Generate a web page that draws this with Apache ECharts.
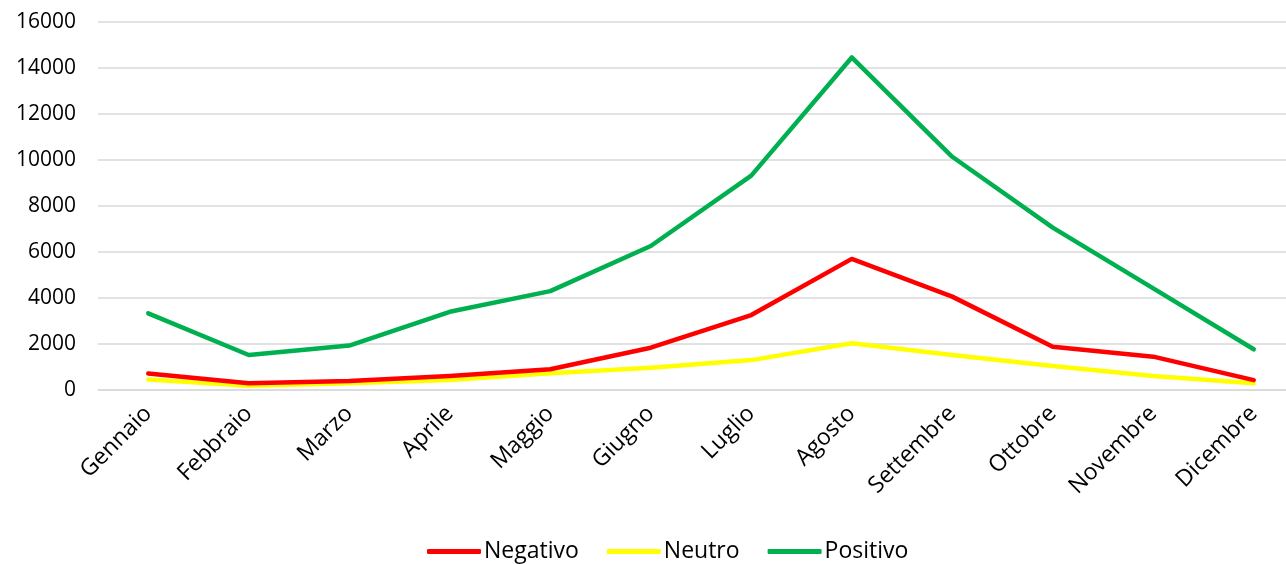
<!DOCTYPE html>
<html>
<head>
<meta charset="utf-8">
<script src="https://cdn.jsdelivr.net/npm/echarts@6/dist/echarts.min.js"></script>
<style>
  html, body { margin: 0; padding: 0; background: #fff; overflow: hidden; }
  /* the plot area continues a little past the right edge of the window */
  #chart { width: 1304px; height: 564px; }
</style>
</head>
<body>
<div id="chart"></div>
<script>
// Monthly counts by sentiment
const mesi = ['Gennaio', 'Febbraio', 'Marzo', 'Aprile', 'Maggio', 'Giugno',
              'Luglio', 'Agosto', 'Settembre', 'Ottobre', 'Novembre', 'Dicembre'];
const negativo = [720, 290, 390, 610, 900, 1840, 3260, 5700, 4060, 1880, 1450, 430];
const neutro   = [460, 190, 290, 430, 730, 970, 1300, 2030, 1520, 1040, 610, 290];
const positivo = [3330, 1520, 1930, 3400, 4300, 6260, 9320, 14460, 10140, 7060, 4420, 1770];

const FONT = '"Open Sans", "Noto Sans", sans-serif';

const chart = echarts.init(document.getElementById('chart'), null, { renderer: 'canvas' });

function lineSeries(name, data, color) {
  return {
    name: name,
    type: 'line',
    data: data,
    showSymbol: false,
    symbol: 'none',
    lineStyle: { color: color, width: 4.5, cap: 'round', join: 'round' },
    itemStyle: { color: color },
    emphasis: { disabled: true }
  };
}

chart.setOption({
  animation: false,
  backgroundColor: '#ffffff',
  grid: { left: 98, top: 22, bottom: 174, right: 0, containLabel: false },
  xAxis: {
    type: 'category',
    data: mesi,
    boundaryGap: true,
    axisLine: { show: true, lineStyle: { color: '#D9D9D9', width: 1.5 } },
    axisTick: { show: false },
    axisLabel: {
      interval: 0,
      rotate: 45,
      margin: 20,
      color: '#000',
      fontFamily: FONT,
      fontSize: 23
    }
  },
  yAxis: {
    type: 'value',
    min: 0,
    max: 16000,
    interval: 2000,
    axisLine: { show: false },
    axisTick: { show: false },
    axisLabel: {
      color: '#000', fontFamily: FONT, fontSize: 21, margin: 22,
      formatter: function (v) { return String(v); }
    },
    splitLine: { lineStyle: { color: '#D9D9D9', width: 1.5 } }
  },
  legend: {
    bottom: -4,
    left: 422,
    icon: 'roundRect',
    itemWidth: 54,
    itemHeight: 5,
    itemGap: 28,
    textStyle: { color: '#000', fontFamily: FONT, fontSize: 23, padding: [0, 0, 0, -2] },
    data: ['Negativo', 'Neutro', 'Positivo']
  },
  series: [
    lineSeries('Neutro', neutro, '#FFFF00'),
    lineSeries('Negativo', negativo, '#FF0000'),
    lineSeries('Positivo', positivo, '#00B050')
  ]
});
</script>
</body>
</html>
